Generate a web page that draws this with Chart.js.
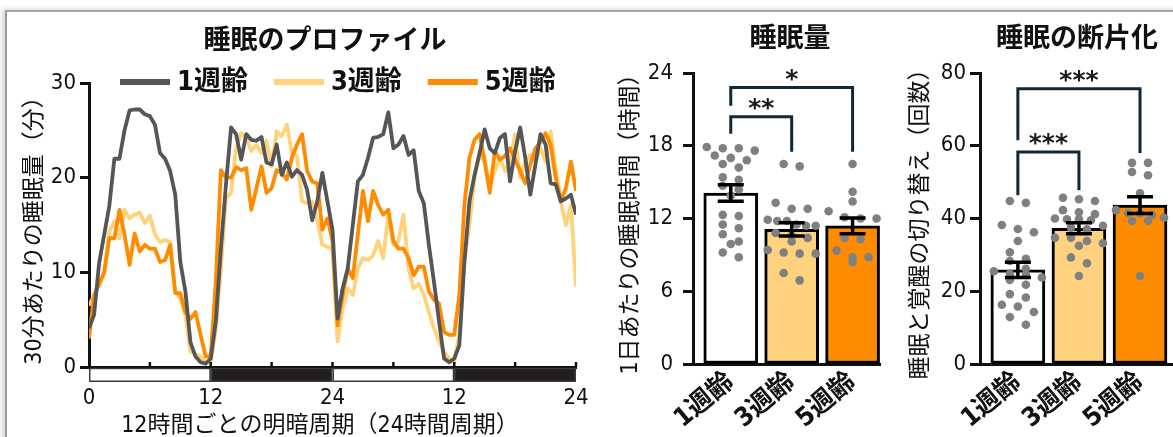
<!DOCTYPE html>
<html lang="ja">
<head>
<meta charset="utf-8">
<title>睡眠のプロファイル・睡眠量・睡眠の断片化</title>
<script src="https://cdn.jsdelivr.net/npm/chart.js@4.4.1/dist/chart.umd.min.js"></script>
<style>
  html, body { margin: 0; padding: 0; background: #fff; }
  #fig { position: relative; width: 1173px; height: 437px; overflow: hidden; background: #fff; }
  #frame {
    position: absolute; left: 5px; top: 10px; width: 1300px; height: 600px;
    border-top: 2px solid #a6a6a6; border-left: 2px solid #9a9a9a;
    box-shadow: -3px -1px 5px rgba(0, 0, 0, 0.16); background: #fff;
  }
  canvas { position: absolute; top: 0; }
  #cProfile { left: 0; }
  #cAmount { left: 590px; }
  #cFrag { left: 880px; }
</style>
</head>
<body>
<div id="fig">
  <div id="frame"></div>
  <canvas id="cProfile" width="610" height="441"></canvas>
  <canvas id="cAmount" width="300" height="437"></canvas>
  <canvas id="cFrag" width="293" height="437"></canvas>
</div>
<script>
// ---------------- data ----------------
const GROUPS = ['1週齢', '3週齢', '5週齢'];

// sleep per 30-min bin (min), two consecutive 24 h light/dark cycles
const BIN_HOURS = 0.5;
const PROFILE_1W = [
  4.1, 5.5, 11.0, 14.0, 17.0, 22.0, 22.0, 25.0, 27.1, 27.2, 27.2, 26.7, 26.5, 25.6, 22.6, 22.0, 20.7, 18.2, 11.1, 8.0, 2.6, 1.1, 0.5, 0.35, 0.9,
  4.8, 12.5, 19.3, 25.3, 24.6, 21.9, 24.6, 24.0, 23.9, 24.3, 21.6, 21.4, 23.5, 20.3, 21.6, 20.1, 20.8, 20.3, 18.7, 15.5, 17.5, 20.5, 17.5, 14.5,
  5.1, 8.3, 10.4, 15.0, 19.6, 20.3, 22.1, 24.2, 24.3, 24.6, 26.9, 23.1, 23.5, 24.4, 22.4, 22.9, 18.6, 17.3, 12.9, 9.0, 4.8, 0.9, 0.5, 0.9,
  2.3, 11.1, 17.5, 20.3, 22.6, 25.1, 23.1, 22.6, 24.2, 24.6, 19.6, 22.8, 25.3, 22.1, 18.2, 21.4, 24.6, 23.5, 19.4, 19.3, 17.5, 17.8, 18.2, 16.1
];
const PROFILE_3W = [
  6.5, 7.5, 9.0, 10.0, 14.3, 15.4, 13.6, 16.6, 15.7, 16.1, 16.3, 15.2, 16.0, 14.0, 13.2, 13.4, 13.2, 8.0, 7.2, 5.5, 1.6, 1.4, 1.1, 0.5, 0.5,
  4.0, 10.4, 17.8, 18.4, 23.1, 24.7, 24.2, 22.8, 23.5, 22.6, 23.9, 21.2, 24.9, 24.4, 25.6, 22.6, 22.3, 17.5, 17.3, 17.5, 15.4, 12.9, 12.7, 12.5,
  2.7, 6.2, 8.3, 7.6, 10.4, 11.5, 11.3, 11.8, 13.3, 11.5, 16.1, 12.9, 13.3, 16.1, 10.4, 8.3, 8.8, 7.6, 5.8, 4.1, 2.7, 1.6, 0.9, 0.5,
  3.4, 11.1, 15.0, 20.0, 22.4, 21.7, 19.3, 20.7, 22.1, 20.7, 21.7, 24.6, 20.0, 21.7, 22.4, 21.7, 23.1, 21.7, 24.9, 21.0, 17.5, 15.0, 17.1, 8.5
];
const PROFILE_5W = [
  3.0, 7.6, 8.7, 10.0, 13.6, 13.6, 16.6, 14.0, 10.8, 14.1, 12.2, 12.9, 12.5, 12.5, 11.1, 11.3, 12.9, 7.8, 7.8, 5.8, 5.1, 5.8, 3.4, 1.1, 1.2,
  9.0, 20.8, 20.0, 20.0, 21.1, 20.8, 21.0, 16.6, 18.9, 21.2, 18.4, 18.9, 20.8, 20.5, 19.8, 22.1, 23.5, 24.6, 20.7, 19.6, 19.4, 14.5, 15.7, 13.3,
  4.4, 7.6, 10.4, 9.4, 14.0, 18.6, 15.4, 18.6, 17.1, 16.1, 16.6, 13.3, 12.5, 12.5, 11.5, 9.7, 10.6, 10.6, 8.0, 7.1, 6.7, 3.7, 3.4, 3.4,
  7.6, 17.1, 22.1, 24.0, 24.6, 21.7, 18.4, 22.8, 21.9, 22.3, 23.1, 21.9, 20.7, 19.4, 21.4, 23.1, 23.7, 24.7, 23.5, 20.0, 17.5, 18.9, 21.7, 18.6
];
const PROFILE_TICK_HOURS = [0, 12, 24, 36, 48];
const PROFILE_TICK_LABELS = ['0', '12', '24', '12', '24'];
// light / dark phases (hours)
const LIGHT_DARK = [[0, 12, 'light'], [12, 24, 'dark'], [24, 36, 'light'], [36, 48, 'dark']];

// daily sleep (h): group mean, SEM and individual animals
const SLEEP_MEAN = [14.1, 11.1, 11.4];
const SLEEP_SEM = [0.68, 0.55, 0.65];
const SLEEP_1W = [17.9, 17.2, 17.8, 16.5, 15.4, 14.7, 13.9, 12.3, 11.5, 10.7, 9.9, 8.8, 17.8, 17.0, 16.2, 15.2, 14.4, 12.2, 11.2, 10.1, 9.2, 17.6, 16.8];
const SLEEP_3W = [16.5, 16.3, 12.8, 12.8, 13.3, 11.4, 11.5, 11.8, 11.8, 11.9, 11.4, 10.8, 10.4, 10.1, 10.6, 9.1, 9.4, 9.1, 9.2, 7.5, 6.9];
const SLEEP_5W = [16.5, 14.2, 13.4, 12.6, 12.1, 12.0, 12.0, 10.3, 10.4, 9.35, 8.4, 8.8, 8.8];
const SLEEP_TICKS = [0, 6, 12, 18, 24];

// sleep/wake transitions (count): group mean, SEM and individual animals
const FRAG_MEAN = [25.9, 37.3, 43.7];
const FRAG_SEM = [2.1, 1.5, 2.3];
const FRAG_1W = [44.3, 44.8, 37.1, 38.2, 36.2, 33.8, 30.7, 28.3, 28.9, 26.2, 24.8, 23.8, 21.8, 23.1, 18.3, 19.2, 15.8, 16.3, 14.3, 12.9, 10.8, 25.5, 24.5];
const FRAG_3W = [44.8, 45.3, 45.7, 41.7, 41.2, 42.3, 40.0, 39.5, 39.8, 39.8, 38.0, 37.5, 37.0, 33.8, 34.7, 33.2, 34.7, 32.5, 29.3, 27.7, 24.2];
const FRAG_5W = [55.3, 55.3, 51.9, 52.8, 46.9, 41.4, 40.2, 39.3, 41.0, 42.3, 39.3, 41.5, 24.2];
const FRAG_TICKS = [0, 20, 40, 60, 80];

// significance brackets (group indices, heights in axis units)
const SLEEP_SIG = [
  { from: 0, to: 2, top: 22.8, leftEnd: 21.3, rightEnd: 17.5, label: '*' },
  { from: 0, to: 1, top: 20.4, leftEnd: 19.0, rightEnd: 17.5, label: '**' }
];
const FRAG_SIG = [
  { from: 0, to: 2, top: 75.7, leftEnd: 61.5, rightEnd: 58.0, label: '***' },
  { from: 0, to: 1, top: 58.3, leftEnd: 46.4, rightEnd: 47.8, label: '***' }
];

// ---------------- style ----------------
const FONT = "'DejaVu Sans Condensed', 'DejaVu Sans', 'Noto Sans CJK JP', sans-serif";
const STAR_FONT = "bold 25px 'DejaVu Sans', sans-serif";
const INK = '#111111';
const LINE_COLORS = ['#565656', '#FFD27C', '#FF8C00'];
const BAR_FILLS = ['#FFFFFF', '#FFD27F', '#FF8C00'];
const DOT_COLOR = '#808080';
const BRACKET_COLOR = '#10293a';

Chart.defaults.font.family = FONT;
Chart.defaults.color = INK;

// ---------------- drawing helpers ----------------
function drawText(ctx, text, x, y, font) {
  ctx.save();
  ctx.font = font;
  ctx.fillStyle = INK;
  ctx.textAlign = 'center';
  ctx.textBaseline = 'middle';
  ctx.fillText(text, x, y);
  ctx.restore();
}

// row-wise scatter: animals with similar values share a row, spread symmetrically
function swarm(pixels, rowHeight, step, maxHalf) {
  const ys = pixels.slice().sort((a, b) => a - b);
  const rows = [];
  ys.forEach(y => {
    const row = rows[rows.length - 1];
    if (row && y - row[0] < rowHeight) row.push(y); else rows.push([y]);
  });
  const out = [];
  rows.forEach(row => {
    const n = row.length;
    const s = n > 1 ? Math.min(step, (2 * maxHalf) / (n - 1)) : 0;
    row.forEach((y, k) => out.push({ y, dx: (k - (n - 1) / 2) * s }));
  });
  return out;
}

function groupPanelPlugin(cfg) {
  return {
    id: 'groupPanel',
    afterDatasetsDraw(chart) {
      const ctx = chart.ctx, xs = chart.scales.x, ys = chart.scales.y;
      ctx.save();
      // individual animals
      ctx.fillStyle = DOT_COLOR;
      cfg.points.forEach((vals, i) => {
        const cx = xs.getPixelForValue(i);
        swarm(vals.map(v => ys.getPixelForValue(v)), 8, 16, 24).forEach(p => {
          ctx.beginPath();
          ctx.arc(cx + p.dx, p.y, 4.3, 0, Math.PI * 2);
          ctx.fill();
        });
      });
      // mean ± SEM
      ctx.strokeStyle = '#000';
      ctx.lineWidth = 3.5;
      ctx.lineCap = 'butt';
      cfg.mean.forEach((m, i) => {
        const cx = xs.getPixelForValue(i);
        const yt = ys.getPixelForValue(m + cfg.sem[i]);
        const yb = ys.getPixelForValue(m - cfg.sem[i]);
        ctx.beginPath();
        ctx.moveTo(cx, yt); ctx.lineTo(cx, yb);
        ctx.moveTo(cx - 13, yt); ctx.lineTo(cx + 13, yt);
        ctx.moveTo(cx - 13, yb); ctx.lineTo(cx + 13, yb);
        ctx.stroke();
      });
      ctx.restore();
    },
    afterDraw(chart) {
      const ctx = chart.ctx, xs = chart.scales.x, ys = chart.scales.y;
      ctx.save();
      cfg.brackets.forEach(b => {
        const xl = xs.getPixelForValue(b.from), xr = xs.getPixelForValue(b.to);
        const yt = ys.getPixelForValue(b.top);
        ctx.strokeStyle = BRACKET_COLOR;
        ctx.lineWidth = 3;
        ctx.lineJoin = 'miter';
        ctx.beginPath();
        ctx.moveTo(xl, ys.getPixelForValue(b.leftEnd));
        ctx.lineTo(xl, yt);
        ctx.lineTo(xr, yt);
        ctx.lineTo(xr, ys.getPixelForValue(b.rightEnd));
        ctx.stroke();
        ctx.font = STAR_FONT;
        ctx.fillStyle = '#1a1a1a';
        ctx.textAlign = 'center';
        ctx.textBaseline = 'alphabetic';
        ctx.fillText(b.label, (xl + xr) / 2, yt - 1);
      });
      ctx.restore();
      drawText(ctx, cfg.title, cfg.titleX, cfg.titleY, 'bold 27px ' + FONT);
    }
  };
}

const profilePlugin = {
  id: 'profilePanel',
  afterDraw(chart) {
    const ctx = chart.ctx, xs = chart.scales.x, area = chart.chartArea;
    ctx.save();
    // light / dark bar under the time axis
    const top = area.bottom + 1.5, h = 13.5;
    LIGHT_DARK.forEach(([a, b, kind]) => {
      const x0 = xs.getPixelForValue(a), x1 = xs.getPixelForValue(b);
      ctx.fillStyle = kind === 'dark' ? '#231f20' : '#ffffff';
      ctx.fillRect(x0, top, x1 - x0, h);
      ctx.strokeStyle = '#3a3a3a';
      ctx.lineWidth = 1.5;
      ctx.strokeRect(x0 + 0.75, top, x1 - x0 - 1.5, h - 0.75);
    });
    // small inward ticks every 6 h
    ctx.strokeStyle = INK;
    ctx.lineWidth = 2.5;
    for (let hr = 6; hr <= 48; hr += 6) {
      const x = xs.getPixelForValue(hr);
      ctx.beginPath();
      ctx.moveTo(x, area.bottom);
      ctx.lineTo(x, area.bottom - 5);
      ctx.stroke();
    }
    // legend
    ctx.font = 'bold 27px ' + FONT;
    ctx.textAlign = 'left';
    ctx.textBaseline = 'middle';
    let x = 120;
    const y = 82;
    chart.data.datasets.forEach(ds => {
      ctx.strokeStyle = ds.borderColor;
      ctx.lineWidth = 6;
      ctx.lineCap = 'butt';
      ctx.beginPath();
      ctx.moveTo(x, y);
      ctx.lineTo(x + 50, y);
      ctx.stroke();
      x += 57;
      ctx.fillStyle = INK;
      ctx.fillText(ds.label, x, y + 1);
      x += ctx.measureText(ds.label).width + 26;
    });
    ctx.restore();
    drawText(ctx, '睡眠のプロファイル', 325, 42, 'bold 27px ' + FONT);
    // time-axis caption
    drawText(ctx, '12時間ごとの明暗周期（24時間周期）', 320, 426, '23px ' + FONT);
  }
};

// ---------------- sleep profile (line chart) ----------------
const toPoints = arr => arr.map((v, i) => ({ x: i * BIN_HOURS, y: v }));

new Chart(document.getElementById('cProfile'), {
  type: 'line',
  data: {
    datasets: [
      { label: GROUPS[0], data: toPoints(PROFILE_1W), borderColor: LINE_COLORS[0], order: 0 },
      { label: GROUPS[1], data: toPoints(PROFILE_3W), borderColor: LINE_COLORS[1], order: 2 },
      { label: GROUPS[2], data: toPoints(PROFILE_5W), borderColor: LINE_COLORS[2], order: 1 }
    ]
  },
  options: {
    responsive: false,
    animation: false,
    events: [],
    layout: { padding: { left: 0, right: 34, top: 83, bottom: 0 } },
    elements: {
      point: { radius: 0 },
      line: { borderWidth: 3.8, tension: 0, fill: false, borderJoinStyle: 'round' }
    },
    plugins: { legend: { display: false }, tooltip: { enabled: false }, title: { display: false } },
    scales: {
      x: {
        type: 'linear', min: 0, max: 48,
        afterBuildTicks: axis => { axis.ticks = PROFILE_TICK_HOURS.map(v => ({ value: v })); },
        afterFit: axis => { axis.height = 74; },
        ticks: {
          callback: (v, i) => PROFILE_TICK_LABELS[i],
          font: { size: 22 }, color: INK, padding: 18, maxRotation: 0, autoSkip: false
        },
        grid: { display: false, drawTicks: false },
        border: { display: true, color: INK, width: 3 },
        title: { display: false }
      },
      y: {
        min: 0, max: 30,
        afterFit: axis => { axis.width = 89; },
        ticks: { stepSize: 10, font: { size: 22 }, color: INK, padding: 4 },
        grid: { drawOnChartArea: false, drawTicks: true, tickLength: 9, tickWidth: 3, tickColor: INK },
        border: { display: true, color: INK, width: 3 },
        title: { display: true, text: '30分あたりの睡眠量（分）', font: { size: 23 }, color: INK, padding: { top: 21, bottom: 0 } }
      }
    }
  },
  plugins: [profilePlugin]
});

// ---------------- group bar charts ----------------
function groupChart(id, o) {
  return new Chart(document.getElementById(id), {
    type: 'bar',
    data: {
      datasets: [{
        data: o.mean.map((m, i) => ({ x: i, y: m })),
        backgroundColor: BAR_FILLS,
        borderColor: '#000',
        borderWidth: 3,
        borderSkipped: false,
        barThickness: 54
      }]
    },
    options: {
      responsive: false,
      animation: false,
      events: [],
      layout: { padding: { left: 0, right: o.padRight, top: 73, bottom: 0 } },
      plugins: { legend: { display: false }, tooltip: { enabled: false }, title: { display: false } },
      scales: {
        x: {
          type: 'linear', min: -0.62, max: o.xMax, offset: false,
          afterBuildTicks: axis => { axis.ticks = GROUPS.map((g, i) => ({ value: i })); },
          afterFit: axis => { axis.height = 73; },
          ticks: {
            callback: (v, i) => GROUPS[i],
            font: { size: 26, weight: 'bold' }, color: INK,
            minRotation: 40, maxRotation: 40, autoSkip: false, padding: 3
          },
          grid: { display: false, drawTicks: false },
          border: { display: true, color: INK, width: 3 }
        },
        y: {
          min: 0, max: o.ticks[o.ticks.length - 1],
          afterFit: axis => { axis.width = o.axisWidth; },
          afterBuildTicks: axis => { axis.ticks = o.ticks.map(v => ({ value: v })); },
          ticks: { font: { size: 22 }, color: INK, padding: o.tickPad },
          grid: { drawOnChartArea: false, drawTicks: true, tickLength: 10, tickWidth: 3, tickColor: INK },
          border: { display: true, color: INK, width: 3 },
          title: { display: true, text: o.yTitle, font: { size: 23 }, color: INK, padding: { top: 27, bottom: 0 } }
        }
      }
    },
    plugins: [groupPanelPlugin({
      points: o.points, mean: o.mean, sem: o.sem, brackets: o.brackets,
      title: o.title, titleX: o.titleX, titleY: 40
    })]
  });
}

groupChart('cAmount', {
  mean: SLEEP_MEAN, sem: SLEEP_SEM, points: [SLEEP_1W, SLEEP_3W, SLEEP_5W],
  brackets: SLEEP_SIG, ticks: SLEEP_TICKS,
  yTitle: '1日あたりの睡眠時間（時間）', title: '睡眠量', titleX: 200,
  axisWidth: 103, tickPad: 10, padRight: 10, xMax: 2.45
});

groupChart('cFrag', {
  mean: FRAG_MEAN, sem: FRAG_SEM, points: [FRAG_1W, FRAG_3W, FRAG_5W],
  brackets: FRAG_SIG, ticks: FRAG_TICKS,
  yTitle: '睡眠と覚醒の切り替え（回数）', title: '睡眠の断片化', titleX: 197,
  axisWidth: 100, tickPad: 4, padRight: 0, xMax: 2.54
});
</script>
</body>
</html>
